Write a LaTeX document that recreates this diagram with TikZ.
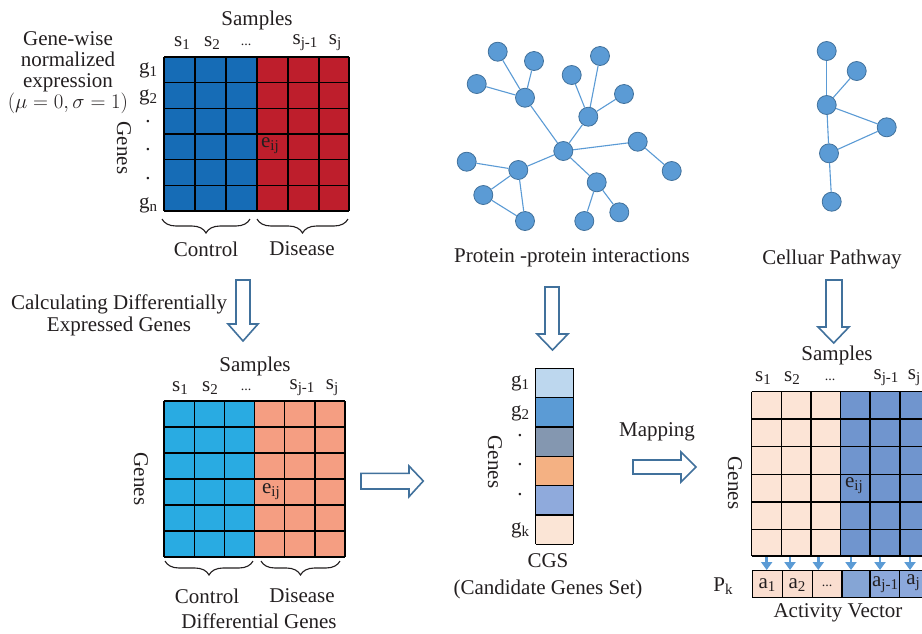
\documentclass[tikz,border=0pt]{standalone}
\usepackage{fontspec}
\setmainfont{Liberation Serif}
\usetikzlibrary{decorations.pathreplacing,arrows.meta}
\definecolor{topblue}{RGB}{22,108,182}
\definecolor{topred}{RGB}{190,30,44}
\definecolor{dblue}{RGB}{41,171,226}
\definecolor{dsalmon}{RGB}{245,158,130}
\definecolor{nodefill}{RGB}{91,155,213}
\definecolor{nodeline}{RGB}{65,113,156}
\definecolor{cgA}{RGB}{189,215,238}
\definecolor{cgB}{RGB}{91,155,213}
\definecolor{cgC}{RGB}{132,151,176}
\definecolor{cgD}{RGB}{244,177,131}
\definecolor{cgE}{RGB}{143,170,220}
\definecolor{cgF}{RGB}{251,229,214}
\definecolor{rpeach}{RGB}{252,228,214}
\definecolor{rblue}{RGB}{112,149,206}
\definecolor{avpeach}{RGB}{250,222,208}
\definecolor{avblue}{RGB}{140,168,219}
\definecolor{ink}{RGB}{35,31,32}
\newcommand\sbs[1]{\raisebox{-0.32ex}{\fontsize{15}{15}\selectfont #1}}
\newcommand\smalldots{{\fontsize{14}{14}\selectfont ...}}
\tikzset{
  lbl/.style={font=\fontsize{21}{22}\selectfont, text=ink, inner sep=0pt},
  gridline/.style={line width=1.4pt, black},
  pnode/.style={circle, fill=nodefill, draw=nodeline, line width=0.8pt, minimum size=19pt, inner sep=0pt},
  pedge/.style={nodefill, line width=1.1pt},
  blockarrow/.style={draw=nodeline, fill=white, line width=1.6pt, line join=miter},
  smarrow/.style={nodefill, line width=2.8pt, -{Triangle[width=11pt,length=8pt]}},
  bracestyle/.style={decorate, decoration={brace, amplitude=14pt, mirror}, line width=1.1pt, ink},
}
\begin{document}
\begin{tikzpicture}[x=1pt,y=-1pt]
\path[use as bounding box, fill=white] (0,0) rectangle (922,633);

% ================= Top-left: normalized expression matrix =================
\fill[topblue] (164,57) rectangle (257,211);
\fill[topred] (257,57) rectangle (349,211);
\foreach \x in {164,195,226,257,288,319,349} \draw[gridline] (\x,57) -- (\x,211);
\foreach \y in {57,82.7,108.3,134,159.7,185.3,211} \draw[gridline] (164,\y) -- (349,\y);
\node[lbl] (tsamp) at (257,20) {Samples};
\node[lbl] (ts1) at (182,43) {s\sbs{1}};
\node[lbl] (ts2) at (212,43) {s\sbs{2}};
\node[lbl] (tsd) at (246,45) {\smalldots};
\node[lbl] (tsj1) at (305,43) {s\sbs{j-1}};
\node[lbl] (tsj) at (335,43) {s\sbs{j}};
\node[lbl] (tg1) at (148,70) {g\sbs{1}};
\node[lbl] (tg2) at (148,97) {g\sbs{2}};
\node[lbl] (td1) at (148,122) {.};
\node[lbl] (td2) at (148,150) {.};
\node[lbl] (td3) at (148,179) {.};
\node[lbl] (tgn) at (148,205) {g\sbs{n}};
\node[lbl, rotate=-90] (tgenes) at (124,148) {Genes};
\node[lbl] (teij) at (270,146) {e\sbs{ij}};
\node[lbl, align=center, font=\fontsize{21}{21}\selectfont] (gw) at (68,73) {Gene-wise\\normalized\\expression\\$(\mu=0,\sigma=1)$};
\draw[bracestyle] (162,219) -- (250,219);
\draw[bracestyle] (257,219) -- (348,219);
\node[lbl] (tctrl) at (206,249) {Control};
\node[lbl] (tdis) at (302,249) {Disease};

% arrow down 1
\draw[blockarrow] (236,280) -- (250,280) -- (250,324) -- (258,324) -- (243,341) -- (228,324) -- (236,324) -- cycle;
\node[lbl, align=center] (calc) at (119,315) {Calculating Differentially\\Expressed Genes};

% ================= Bottom-left: differential genes matrix =================
\fill[dblue] (164,401) rectangle (254.3,557);
\fill[dsalmon] (254.3,401) rectangle (345,557);
\foreach \x in {164,194.3,224.3,254.3,284.3,315,345} \draw[gridline] (\x,401) -- (\x,557);
\foreach \y in {401,427,453,479,505,531,557} \draw[gridline] (164,\y) -- (345,\y);
\node[lbl] (bsamp) at (255,366) {Samples};
\node[lbl] (bs1) at (180,388) {s\sbs{1}};
\node[lbl] (bs2) at (210,388) {s\sbs{2}};
\node[lbl] (bsd) at (246,390) {\smalldots};
\node[lbl] (bsj1) at (302,388) {s\sbs{j-1}};
\node[lbl] (bsj) at (332,388) {s\sbs{j}};
\node[lbl, rotate=-90] (bgenes) at (141,479) {Genes};
\node[lbl] (beij) at (271,492) {e\sbs{ij}};
\draw[bracestyle] (165,561) -- (253,561);
\draw[bracestyle] (261,561) -- (340,561);
\node[lbl] (bctrl) at (207,596) {Control};
\node[lbl] (bdis) at (302,596) {Disease};
\node[lbl] (dgenes) at (259,621) {Differential Genes};

% arrow right 1
\draw[blockarrow] (361,473.3) -- (409,473.3) -- (409,466) -- (423.3,481) -- (409,496.7) -- (409,489) -- (361,489) -- cycle;

% ================= PPI network =================
\node[pnode] (p1) at (497.7,51.7) {};
\node[pnode] (p2) at (534,61) {};
\node[pnode] (p3) at (476.7,84) {};
\node[pnode] (p4) at (525,97.7) {};
\node[pnode] (p5) at (571.7,75) {};
\node[pnode] (p6) at (600,56) {};
\node[pnode] (p7) at (624,94) {};
\node[pnode] (p8) at (588.3,116.7) {};
\node[pnode] (p9) at (563.3,151) {};
\node[pnode] (p10) at (637.7,141.7) {};
\node[pnode] (p11) at (671.7,171) {};
\node[pnode] (p12) at (466.7,161.7) {};
\node[pnode] (p13) at (518.3,170) {};
\node[pnode] (p14) at (483.3,195) {};
\node[pnode] (p15) at (525,221) {};
\node[pnode] (p16) at (596.7,182.3) {};
\node[pnode] (p17) at (619.3,212.3) {};
\node[pnode] (p18) at (584.3,221) {};
\foreach \a/\b in {p1/p4,p2/p4,p3/p4,p4/p9,p5/p8,p6/p8,p7/p8,p8/p9,p9/p10,p10/p11,p9/p13,p12/p13,p13/p14,p13/p15,p14/p15,p9/p16,p16/p17,p16/p18}
  \draw[pedge] (\a) -- (\b);
\node[lbl] (ppi) at (572,258) {Protein -protein interactions};

% arrow down 2
\draw[blockarrow] (545,287) -- (559,287) -- (559,334) -- (568,334) -- (552.5,350) -- (537,334) -- (545,334) -- cycle;

% ================= Cellular pathway =================
\node[pnode] (c1) at (826.7,51) {};
\node[pnode] (c2) at (856.7,71) {};
\node[pnode] (c3) at (826.7,105) {};
\node[pnode] (c4) at (886.7,127.3) {};
\node[pnode] (c5) at (829,153.3) {};
\node[pnode] (c6) at (831.7,201.7) {};
\foreach \a/\b in {c1/c3,c2/c3,c3/c4,c3/c5,c4/c5,c5/c6}
  \draw[pedge] (\a) -- (\b);
\node[lbl] (cp) at (832,259) {Celluar Pathway};

% arrow down 3
\draw[blockarrow] (826,280) -- (842,280) -- (842,327) -- (849,327) -- (833.7,343) -- (818,327) -- (826,327) -- cycle;

% ================= CGS column =================
\foreach \c [count=\i from 0] in {cgA,cgB,cgC,cgD,cgE,cgF}
  \fill[\c] (535.7,368.3+29.33*\i) rectangle (573.3,368.3+29.33*\i+29.33);
\foreach \i in {0,...,6} \draw[gridline] (535.7,368.3+29.33*\i) -- (573.3,368.3+29.33*\i);
\draw[gridline] (535.7,368.3) -- (535.7,544.3);
\draw[gridline] (573.3,368.3) -- (573.3,544.3);
\node[lbl] (cg1) at (520,383) {g\sbs{1}};
\node[lbl] (cg2) at (520,413) {g\sbs{2}};
\node[lbl] (cd1) at (520,436) {.};
\node[lbl] (cd2) at (520,465) {.};
\node[lbl] (cd3) at (520,495) {.};
\node[lbl] (cgk) at (520,530) {g\sbs{k}};
\node[lbl, rotate=-90] (cgenes) at (495,462) {Genes};
\node[lbl] (cgs) at (548,561) {CGS};
\node[lbl] (cgsfull) at (548,589) {(Candidate Genes Set)};

% mapping arrow
\node[lbl] (mapping) at (657,432) {Mapping};
\draw[blockarrow] (633,460) -- (681,460) -- (681,452) -- (696,467) -- (681,482) -- (681,474) -- (633,474) -- cycle;

% ================= Right: pathway activity matrix =================
\begin{scope}
\clip (0,0) rectangle (922,633);
\fill[rpeach] (751.7,391.7) rectangle (840.5,556);
\fill[rblue] (840.5,391.7) rectangle (935,556);
\foreach \x in {751.7,781.3,811,840.5,870,900,930} \draw[gridline] (\x,391.7) -- (\x,556);
\foreach \y in {391.7,419,446.7,474.3,502,529.3,556} \draw[gridline] (751.7,\y) -- (935,\y);
% activity vector
\fill[avpeach] (752.3,570.7) rectangle (842,597.7);
\fill[rblue!85!white] (842,570.7) rectangle (870,597.7);
\fill[avblue] (870,570.7) rectangle (935,597.7);
\foreach \x in {752.3,782.3,812.7,842,870,899.3,929} \draw[gridline] (\x,570.7) -- (\x,597.7);
\draw[gridline] (752.3,570.7) -- (935,570.7);
\draw[gridline] (752.3,597.7) -- (935,597.7);
\end{scope}
\node[lbl] (rsamp) at (837,355) {Samples};
\node[lbl] (rs1) at (763,378) {s\sbs{1}};
\node[lbl] (rs2) at (792,378) {s\sbs{2}};
\node[lbl] (rsd) at (830,380) {\smalldots};
\node[lbl] (rsj1) at (886,378) {s\sbs{j-1}};
\node[lbl] (rsj) at (914,378) {s\sbs{j}};
\node[lbl, rotate=-90] (rgenes) at (735,483) {Genes};
\node[lbl] (reij) at (854,486) {e\sbs{ij}};
\foreach \x in {766.7,790,818.3,851,880,910}
  \draw[smarrow] (\x,557) -- (\x,570);
\node[lbl] (a1) at (767,585) {a\sbs{1}};
\node[lbl] (a2) at (797,585) {a\sbs{2}};
\node[lbl] (ad) at (827,586) {\smalldots};
\node[lbl] (aj1) at (885,585) {a\sbs{j-1}};
\node[lbl] (aj) at (913,583) {a\sbs{j}};
\node[lbl] (pk) at (723,586) {P\sbs{k}};
\node[lbl] (av) at (838,613) {Activity Vector};
\end{tikzpicture}
\end{document}
